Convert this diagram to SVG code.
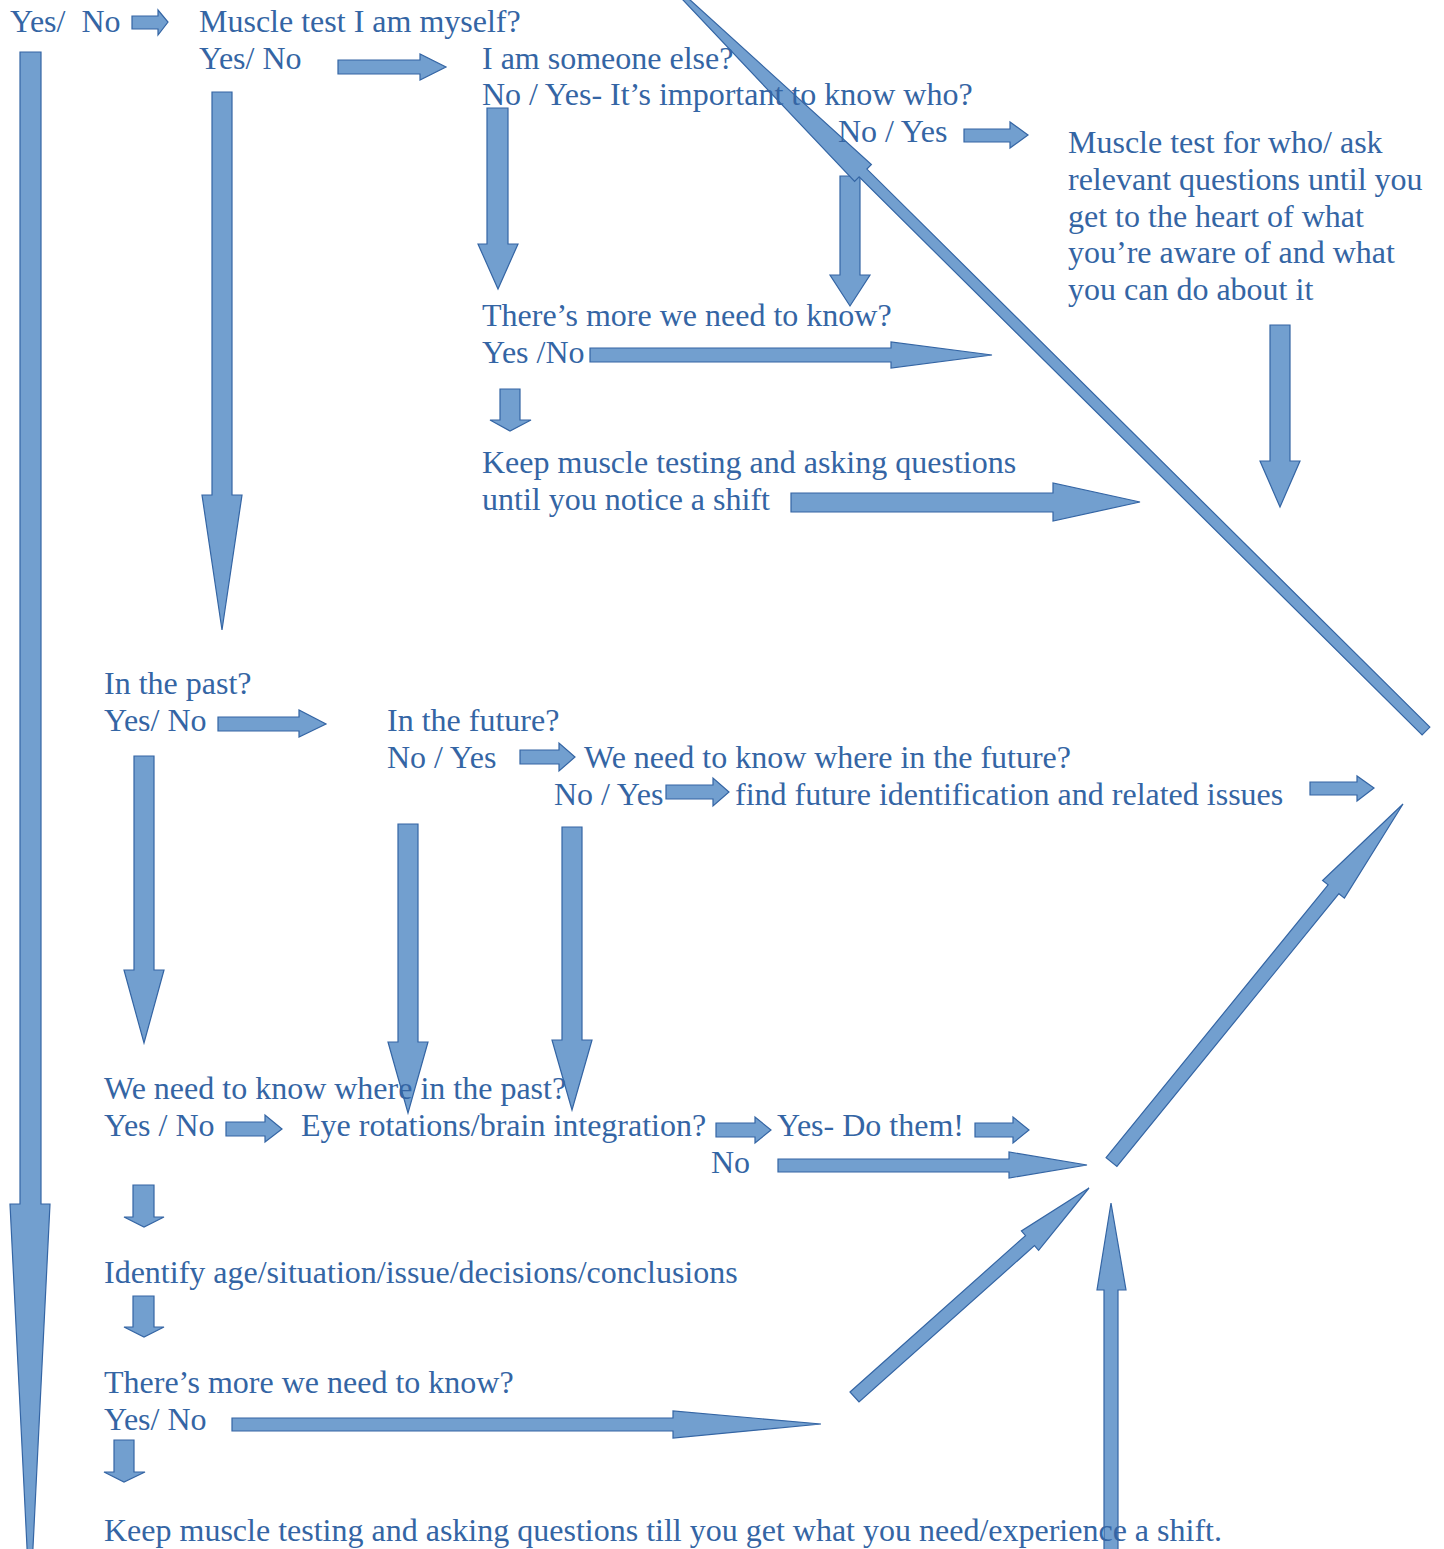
<svg xmlns="http://www.w3.org/2000/svg" width="1444" height="1549" viewBox="0 0 1444 1549">
<style>
.a{fill:#729fcf;stroke:#3465a4;stroke-width:1.2;stroke-linejoin:miter}
.t{font-family:"Liberation Serif","Times New Roman",serif;font-size:32px;fill:#3465a4}
</style>
<rect width="1444" height="1549" fill="#ffffff"/>
<g id="connectors">
<polygon class="a" points="132,16 158,16 158,10 168,22 158,35 158,29 132,29"/>
<polygon class="a" points="20,52 41,52 41,1204 50,1204 30,1608 10,1204 20,1204"/>
<polygon class="a" points="338,60 420,60 420,54 446,67 420,80 420,74 338,74"/>
<polygon class="a" points="212,92 232,92 232,495 242,495 222,630 202,495 212,495"/>
<polygon class="a" points="487,108 508,108 508,244 518,244 498,289 478,244 487,244"/>
<polygon class="a" points="964,129 1010,129 1010,122 1028,135 1010,148 1010,142 964,142"/>
<polygon class="a" points="840,176 860,176 860,275 870,275 850,306 830,275 840,275"/>
<polygon class="a" points="590,348 891,348 891,342 992,355 891,368 891,362 590,362"/>
<polygon class="a" points="500,389 520,389 520,420 531,420 510,431 490,420 500,420"/>
<polygon class="a" points="791,493 1053,493 1053,483 1140,502 1053,521 1053,512 791,512"/>
<polygon class="a" points="1270,325 1290,325 1290,461 1300,461 1280,507 1260,461 1270,461"/>
<polygon class="a" points="1429.9,727.1 866.9,169.1 871.4,164.5 640,-45.5 854.6,181.5 859.1,176.9 1422.1,734.9"/>
<polygon class="a" points="218,717 299,717 299,710 326,724 299,737 299,731 218,731"/>
<polygon class="a" points="134,756 154,756 154,970 164,970 144,1043 124,970 134,970"/>
<polygon class="a" points="520,750 559,750 559,743 575,757 559,771 559,764 520,764"/>
<polygon class="a" points="666,785 713,785 713,778 729,792 713,806 713,799 666,799"/>
<polygon class="a" points="1310,782 1357,782 1357,776 1374,788 1357,801 1357,795 1310,795"/>
<polygon class="a" points="398,824 418,824 418,1042 428,1042 408,1113 388,1042 398,1042"/>
<polygon class="a" points="562,827 582,827 582,1040 592,1040 572,1110 552,1040 562,1040"/>
<polygon class="a" points="226,1122 265,1122 265,1115 282,1129 265,1142 265,1136 226,1136"/>
<polygon class="a" points="716,1123 755,1123 755,1117 771,1130 755,1143 755,1137 716,1137"/>
<polygon class="a" points="975,1123 1013,1123 1013,1117 1029,1130 1013,1143 1013,1137 975,1137"/>
<polygon class="a" points="778,1159 1009,1159 1009,1152 1087,1165 1009,1178 1009,1172 778,1172"/>
<polygon class="a" points="1106.1,1157.6 1328.1,884.9 1322.6,880.5 1403,804 1344.4,898.1 1338.9,893.7 1116.9,1166.4"/>
<polygon class="a" points="850,1392 1025.5,1235.6 1021.4,1230.9 1089,1188 1038.6,1250.3 1034.5,1245.6 859,1402"/>
<polygon class="a" points="1104,1560 1104,1290 1097,1290 1111,1203 1126,1290 1118,1290 1118,1560"/>
<polygon class="a" points="133,1185 154,1185 154,1217 164,1217 144,1227 124,1217 133,1217"/>
<polygon class="a" points="133,1296 154,1296 154,1327 164,1327 144,1337 124,1327 133,1327"/>
<polygon class="a" points="232,1418 673,1418 673,1411 821,1424 673,1438 673,1431 232,1431"/>
<polygon class="a" points="114,1440 134,1440 134,1472 145,1472 124,1482 104,1472 114,1472"/>
</g>
<g id="n-start"><text class="t" x="10" y="32" xml:space="preserve">Yes/  No</text></g>
<g id="n-myself"><text class="t" x="199" y="32">Muscle test I am myself?</text><text class="t" x="199" y="69">Yes/ No</text></g>
<g id="n-else"><text class="t" x="482" y="69">I am someone else?</text><text class="t" x="482" y="105">No / Yes- It’s important to know who?</text></g>
<g id="n-noyes1"><text class="t" x="838" y="142">No / Yes</text></g>
<g id="n-who"><text class="t" x="1068" y="153">Muscle test for who/ ask</text><text class="t" x="1068" y="190">relevant questions until you</text><text class="t" x="1068" y="227">get to the heart of what</text><text class="t" x="1068" y="263">you’re aware of and what</text><text class="t" x="1068" y="300">you can do about it</text></g>
<g id="n-more1"><text class="t" x="482" y="326">There’s more we need to know?</text><text class="t" x="482" y="363">Yes /No</text></g>
<g id="n-keep1"><text class="t" x="482" y="473">Keep muscle testing and asking questions</text><text class="t" x="482" y="510">until you notice a shift</text></g>
<g id="n-past"><text class="t" x="104" y="694">In the past?</text><text class="t" x="104" y="731">Yes/ No</text></g>
<g id="n-future"><text class="t" x="387" y="731">In the future?</text><text class="t" x="387" y="768">No / Yes</text></g>
<g id="n-wherefuture"><text class="t" x="584" y="768">We need to know where in the future?</text><text class="t" x="554" y="805">No / Yes</text></g>
<g id="n-findfuture"><text class="t" x="735" y="805">find future identification and related issues</text></g>
<g id="n-wherepast"><text class="t" x="104" y="1099">We need to know where in the past?</text><text class="t" x="104" y="1136">Yes / No</text></g>
<g id="n-eye"><text class="t" x="301" y="1136">Eye rotations/brain integration?</text><text class="t" x="711" y="1173">No</text></g>
<g id="n-doit"><text class="t" x="777" y="1136">Yes- Do them!</text></g>
<g id="n-identify"><text class="t" x="104" y="1283">Identify age/situation/issue/decisions/conclusions</text></g>
<g id="n-more2"><text class="t" x="104" y="1393">There’s more we need to know?</text><text class="t" x="104" y="1430">Yes/ No</text></g>
<g id="n-keep2"><text class="t" x="104" y="1541">Keep muscle testing and asking questions till you get what you need/experience a shift.</text></g>
</svg>
